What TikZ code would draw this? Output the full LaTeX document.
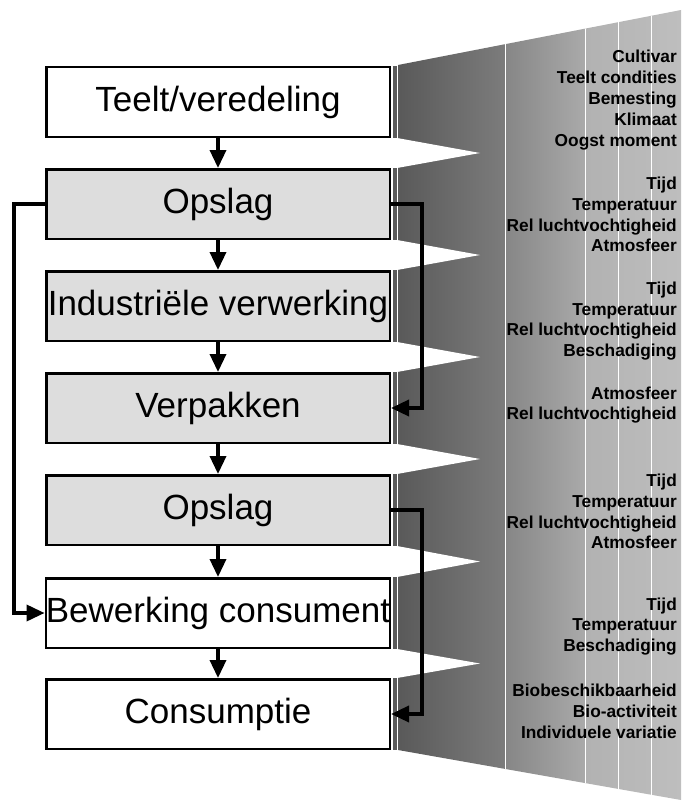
\documentclass[tikz,border=0pt]{standalone}
\usepackage{fontspec}
\setmainfont{Liberation Sans}
\usetikzlibrary{arrows.meta}
\definecolor{boxgrey}{HTML}{DDDDDD}
\definecolor{stripgrey}{HTML}{5A5A5A}
\definecolor{gaa}{HTML}{595959}
\definecolor{gab}{HTML}{7C7C7C}
\definecolor{gba}{HTML}{868686}
\definecolor{gbb}{HTML}{AAAAAA}
\definecolor{gca}{HTML}{B2B2B2}
\definecolor{gcb}{HTML}{B5B5B5}
\definecolor{gda}{HTML}{B7B7B7}
\definecolor{gdb}{HTML}{BABABA}
\definecolor{gea}{HTML}{BBBBBB}
\definecolor{geb}{HTML}{BEBEBE}
\begin{document}
\begin{tikzpicture}[x=1pt,y=-1pt,
  stage/.style={draw=black, line width=2.5pt, minimum width=343.5pt, minimum height=69.5pt, inner sep=0pt, font=\fontsize{35}{42}\selectfont},
  greystage/.style={stage, fill=boxgrey},
  whitestage/.style={stage, fill=white},
  flow/.style={line width=3.5pt, -{Triangle[length=18pt,width=16pt]}},
  info/.style={align=right, anchor=east, inner sep=0pt, font=\bfseries\fontsize{17.3}{20.8}\selectfont},
  sep/.style={white, line width=1pt}]
\useasboundingbox (0,0) rectangle (681,800);

% gradient fan
\begin{scope}
  \clip (398,65) -- (681,10) -- (681,800) -- (398,750) -- cycle;
  \shade[left color=gaa, right color=gab] (397,0) rectangle (505,800);
  \shade[left color=gba, right color=gbb] (505,0) rectangle (585,800);
  \shade[left color=gca, right color=gcb] (585,0) rectangle (618,800);
  \shade[left color=gda, right color=gdb] (618,0) rectangle (651,800);
  \shade[left color=gea, right color=geb] (651,0) rectangle (682,800);
  \draw[sep] (505,0) -- (505,800);
  \draw[sep] (585,0) -- (585,800);
  \draw[sep] (618,0) -- (618,800);
  \draw[sep] (651,0) -- (651,800);
\end{scope}
% white notches between the bands
\fill[white] (397,138) -- (480,153) -- (397,168) -- cycle;
\fill[white] (397,240) -- (480,255) -- (397,270) -- cycle;
\fill[white] (397,342) -- (480,357) -- (397,372) -- cycle;
\fill[white] (397,444) -- (480,459) -- (397,474) -- cycle;
\fill[white] (397,546) -- (480,561.5) -- (397,577) -- cycle;
\fill[white] (397,649) -- (480,663.5) -- (397,678) -- cycle;
% narrow strips beside the boxes
\fill[stripgrey] (393,66) rectangle (397,138);
\fill[stripgrey] (393,168) rectangle (397,240);
\fill[stripgrey] (393,270) rectangle (397,342);
\fill[stripgrey] (393,372) rectangle (397,444);
\fill[stripgrey] (393,474) rectangle (397,546);
\fill[stripgrey] (393,577) rectangle (397,649);
\fill[stripgrey] (393,678) rectangle (397,750);

% stages
\node[whitestage] (b1) at (218,102) {Teelt/veredeling};
\node[greystage]  (b2) at (218,204) {Opslag};
\node[greystage]  (b3) at (218,306) {Industriële verwerking};
\node[greystage]  (b4) at (218,408) {Verpakken};
\node[greystage]  (b5) at (218,510) {Opslag};
\node[whitestage] (b6) at (218,613) {Bewerking consument};
\node[whitestage] (b7) at (218,714) {Consumptie};

% connectors
\draw[flow] (b1.south) -- (b2.north);
\draw[flow] (b2.south) -- (b3.north);
\draw[flow] (b3.south) -- (b4.north);
\draw[flow] (b4.south) -- (b5.north);
\draw[flow] (b5.south) -- (b6.north);
\draw[flow] (b6.south) -- (b7.north);
\draw[flow] (b2.west) -- ++(-31,0) |- (b6.west);
\draw[flow] (b2.east) -- ++(31,0) |- (b4.east);
\draw[flow] (b5.east) -- ++(31,0) |- (b7.east);

% factors
\node[info] (f1) at (677,100) {Cultivar\\Teelt condities\\Bemesting\\Klimaat\\Oogst moment};
\node[info] (f2) at (677,214.5) {Tijd\\Temperatuur\\Rel luchtvochtigheid\\Atmosfeer};
\node[info] (f3) at (677,321) {Tijd\\Temperatuur\\Rel luchtvochtigheid\\Beschadiging};
\node[info] (f4) at (677,405) {Atmosfeer\\Rel luchtvochtigheid};
\node[info] (f5) at (677,511.5) {Tijd\\Temperatuur\\Rel luchtvochtigheid\\Atmosfeer};
\node[info] (f6) at (677,626.5) {Tijd\\Temperatuur\\Beschadiging};
\node[info] (f7) at (677,711.5) {Biobeschikbaarheid\\Bio-activiteit\\Individuele variatie};
\end{tikzpicture}
\end{document}
